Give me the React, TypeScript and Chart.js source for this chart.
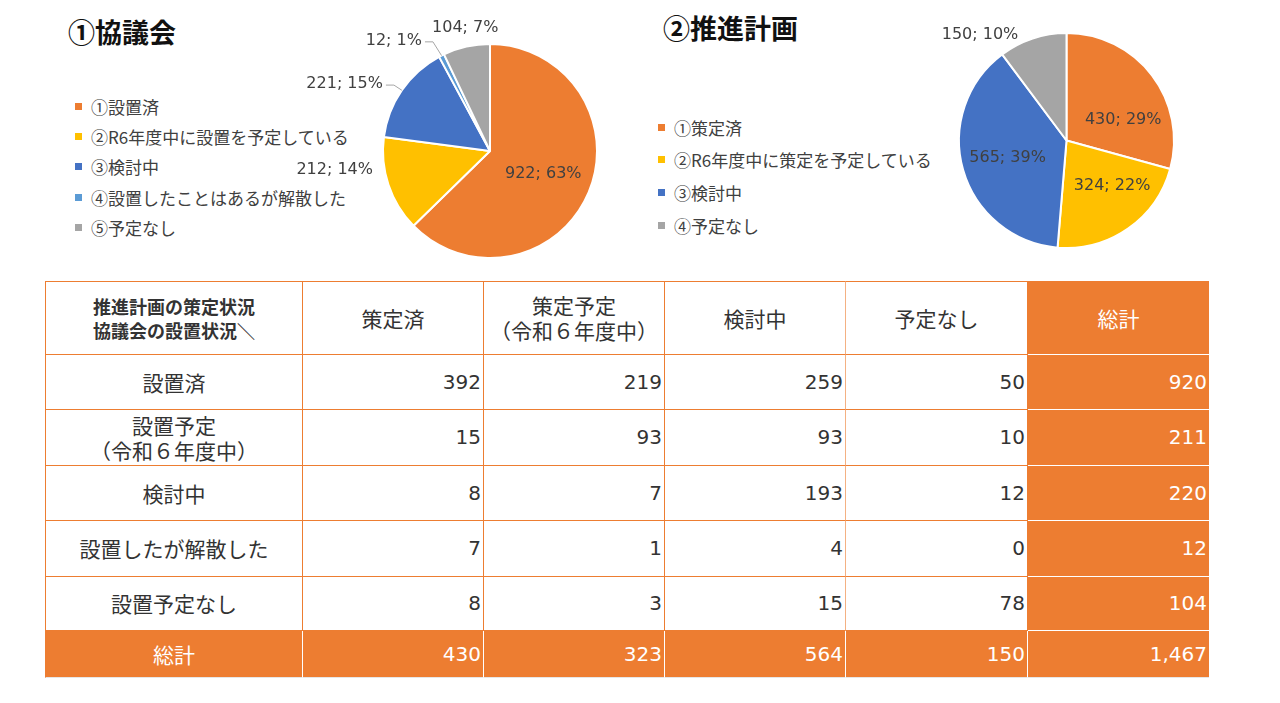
import React, { useEffect, useRef } from "react";
import { Chart, registerables } from "chart.js";

Chart.register(...registerables);

// ---------- data ----------
const councilTitle = "①協議会";
const councilLabels = ["①設置済", "②R6年度中に設置を予定している", "③検討中", "④設置したことはあるが解散した", "⑤予定なし"];
const councilValues = [922, 212, 221, 12, 104];
const councilPercents = [63, 14, 15, 1, 7];

const planTitle = "②推進計画";
const planLabels = ["①策定済", "②R6年度中に策定を予定している", "③検討中", "④予定なし"];
const planValues = [430, 324, 565, 150];
const planPercents = [29, 22, 39, 10];

const cornerHeader = ["推進計画の策定状況", "協議会の設置状況＼"];
const colHeaders = ["策定済", "策定予定\n（令和６年度中）", "検討中", "予定なし", "総計"];
const rowHeaders = ["設置済", "設置予定\n（令和６年度中）", "検討中", "設置したが解散した", "設置予定なし", "総計"];
const row1 = [392, 219, 259, 50, 920];
const row2 = [15, 93, 93, 10, 211];
const row3 = [8, 7, 193, 12, 220];
const row4 = [7, 1, 4, 0, 12];
const row5 = [8, 3, 15, 78, 104];
const totalRow = [430, 323, 564, 150, 1467];
const tableRows = [row1, row2, row3, row4, row5, totalRow];

// ---------- styles ----------
const FONT = '"DejaVu Sans", "Noto Sans CJK JP", sans-serif';
const JP_FONT = '"Noto Sans CJK JP", "Noto Sans", sans-serif';
const ORANGE = "#ED7D31";
const councilColors = ["#ED7D31", "#FFC000", "#4472C4", "#5B9BD5", "#A5A5A5"];
const planColors = ["#ED7D31", "#FFC000", "#4472C4", "#A5A5A5"];

type Place = { r: number; a?: number; align?: CanvasTextAlign; line?: boolean };
const councilPlace: Place[] = [
  { r: 0.54 },
  { r: 1.108, a: 170.8, align: "right" },
  { r: 1.18, a: 212, align: "right", line: true },
  { r: 1.21, a: 238.3, align: "right", line: true },
  { r: 1.17, a: 258.6, align: "center" },
];
const planPlace: Place[] = [
  { r: 0.56, a: -19.7 },
  { r: 0.6, a: 45 },
  { r: 0.57 },
  { r: 1.27, a: 230.7, align: "center" },
];

const makeLabelPlugin = (values: number[], percents: number[], place: Place[]) => ({
  id: "pieLabels",
  afterDatasetsDraw(chart: any) {
    const ctx: CanvasRenderingContext2D = chart.ctx;
    const meta = chart.getDatasetMeta(0);
    ctx.save();
    ctx.font = `16px "DejaVu Sans", sans-serif`;
    ctx.textBaseline = "middle";
    meta.data.forEach((arc: any, i: number) => {
      const { x, y, startAngle, endAngle, outerRadius } = arc.getProps(
        ["x", "y", "startAngle", "endAngle", "outerRadius"],
        true
      );
      const mid = (startAngle + endAngle) / 2;
      const p = place[i];
      const ang = p.a !== undefined ? (p.a * Math.PI) / 180 : mid;
      const lx = x + Math.cos(ang) * outerRadius * p.r;
      const ly = y + Math.sin(ang) * outerRadius * p.r;
      if (p.line) {
        ctx.strokeStyle = "#A6A6A6";
        ctx.lineWidth = 1;
        ctx.beginPath();
        ctx.moveTo(lx + 3, ly + 1);
        ctx.lineTo(lx + 11, ly + 1);
        ctx.lineTo(x + Math.cos(mid) * outerRadius, y + Math.sin(mid) * outerRadius);
        ctx.stroke();
      }
      ctx.fillStyle = "#404040";
      ctx.textAlign = p.align || "center";
      ctx.fillText(`${values[i]}; ${percents[i]}%`, lx, ly);
    });
    ctx.restore();
  },
});

type PieProps = {
  labels: string[];
  values: number[];
  percents: number[];
  colors: string[];
  place: Place[];
  left: number;
  width: number;
  height: number;
  padding: { left: number; top: number; right: number; bottom: number };
};

function Pie({ labels, values, percents, colors, place, left, width, height, padding }: PieProps) {
  const ref = useRef<HTMLCanvasElement>(null);
  useEffect(() => {
    const chart = new Chart(ref.current as HTMLCanvasElement, {
      type: "pie",
      data: {
        labels,
        datasets: [{ data: values, backgroundColor: colors, borderColor: "#ffffff", borderWidth: 2 }],
      },
      options: {
        responsive: false,
        animation: false,
        devicePixelRatio: 1,
        layout: { padding },
        plugins: { legend: { display: false }, tooltip: { enabled: false } },
      },
      plugins: [makeLabelPlugin(values, percents, place) as any],
    });
    return () => chart.destroy();
  }, []);
  return (
    <canvas
      ref={ref}
      width={width}
      height={height}
      style={{ position: "absolute", left, top: 0, width, height }}
    />
  );
}

function Legend({ labels, colors, left, top, gap }: { labels: string[]; colors: string[]; left: number; top: number; gap: number }) {
  return (
    <>
      {labels.map((l, i) => (
        <div
          key={l}
          style={{
            position: "absolute",
            left,
            top: top + i * gap - 12,
            height: 24,
            display: "flex",
            alignItems: "center",
            whiteSpace: "nowrap",
            fontSize: 17,
            fontFamily: JP_FONT,
            color: "#404040",
          }}
        >
          <span style={{ display: "inline-block", width: 7, height: 7, background: colors[i], marginRight: 9 }} />
          {l}
        </div>
      ))}
    </>
  );
}

const colW = [258, 181, 181, 181, 182, 181];
const rowH = [74, 55, 56, 55, 56, 54, 47];
const TX = 45;
const TY = 281;

function Table() {
  const cells: React.ReactNode[] = [];
  let y = TY;
  for (let r = 0; r < rowH.length; r++) {
    let x = TX;
    for (let c = 0; c < colW.length; c++) {
      const orange = c === colW.length - 1 || r === rowH.length - 1;
      const lineColor = orange ? "#ffffff" : c === 3 ? "#F4B183" : ORANGE;
      let content: React.ReactNode = null;
      let justify = "center";
      let align: any = "center";
      let fontSize = 21;
      let weight = 400;
      let padL = 0;
      let family = JP_FONT;
      if (r === 0 && c === 0) {
        content = cornerHeader.join("\n");
        justify = "flex-start";
        align = "left";
        fontSize = 18;
        weight = 700;
        padL = 47;
      } else if (r === 0) {
        content = colHeaders[c - 1];
      } else if (c === 0) {
        content = rowHeaders[r - 1];
      } else {
        content = tableRows[r - 1][c - 1].toLocaleString("en-US");
        justify = "flex-end";
        fontSize = 20;
        family = FONT;
      }
      cells.push(
        <div
          key={`${r}-${c}`}
          style={{
            position: "absolute",
            left: x,
            top: y,
            width: colW[c],
            height: rowH[r],
            boxSizing: "border-box",
            background: orange ? ORANGE : "#ffffff",
            color: orange ? "#ffffff" : "#333333",
            borderRight: c === colW.length - 1 ? "none" : `1px solid ${lineColor}`,
            borderBottom: r === rowH.length - 1 ? "1px solid #e6e6e6" : `1px solid ${orange ? "#ffffff" : ORANGE}`,
            borderTop: r === 0 ? `1px solid ${ORANGE}` : "none",
            borderLeft: c === 0 ? `1px solid ${ORANGE}` : "none",
            display: "flex",
            alignItems: "center",
            justifyContent: justify,
            textAlign: align,
            whiteSpace: "pre-line",
            fontSize,
            fontWeight: weight,
            fontFamily: family,
            lineHeight: r === 0 && c === 0 ? "24px" : "25px",
            paddingLeft: padL,
            paddingRight: justify === "flex-end" ? 2 : 0,
          }}
        >
          {content}
        </div>
      );
      x += colW[c];
    }
    y += rowH[r];
  }
  return <>{cells}</>;
}

export default function App() {
  return (
    <div
      style={{
        position: "absolute",
        left: 0,
        top: 0,
        width: 1280,
        height: 703,
        background: "#ffffff",
        fontFamily: JP_FONT,
        overflow: "hidden",
      }}
    >
      <div style={{ position: "absolute", left: 68, top: 17, fontSize: 27, fontWeight: 700, lineHeight: "30px", color: "#111" }}>
        {councilTitle}
      </div>
      <div style={{ position: "absolute", left: 663, top: 13, fontSize: 27, fontWeight: 700, lineHeight: "30px", color: "#111" }}>
        {planTitle}
      </div>
      <Legend labels={councilLabels} colors={councilColors} left={75} top={106} gap={30.4} />
      <Legend labels={planLabels} colors={planColors} left={658} top={127} gap={32.7} />
      <Pie
        labels={councilLabels}
        values={councilValues}
        percents={councilPercents}
        colors={councilColors}
        place={councilPlace}
        left={0}
        width={640}
        height={280}
        padding={{ left: 382, top: 43, right: 42, bottom: 21 }}
      />
      <Pie
        labels={planLabels}
        values={planValues}
        percents={planPercents}
        colors={planColors}
        place={planPlace}
        left={640}
        width={640}
        height={280}
        padding={{ left: 318, top: 32, right: 105, bottom: 31 }}
      />
      <Table />
    </div>
  );
}
